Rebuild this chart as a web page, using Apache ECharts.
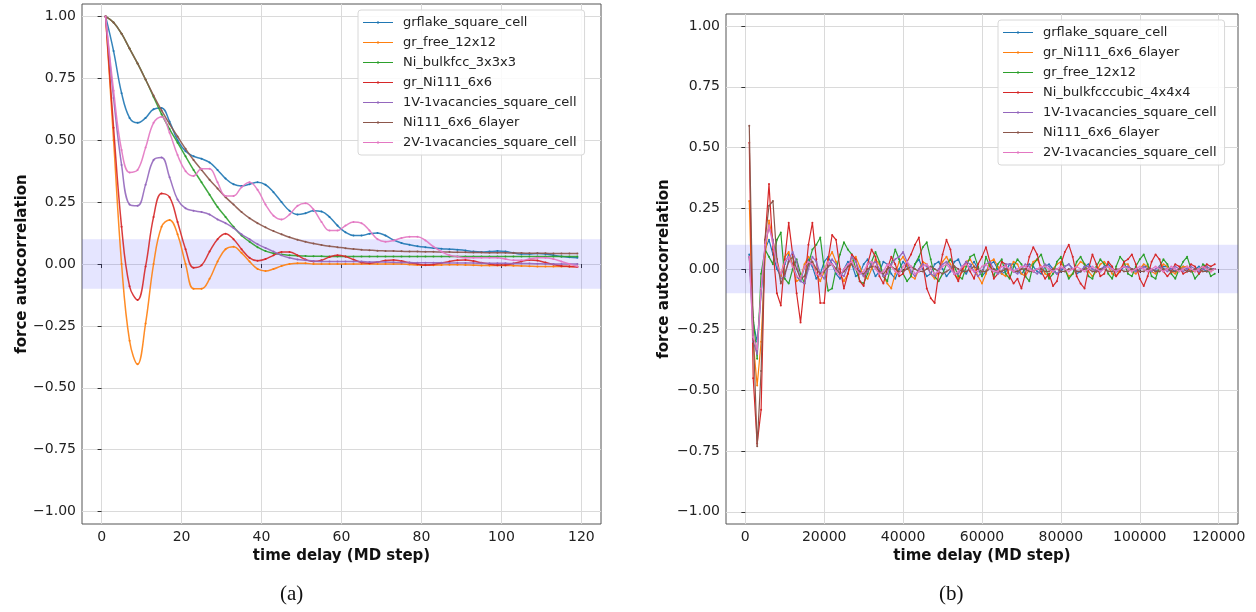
<!DOCTYPE html>
<html>
<head>
<meta charset="utf-8">
<script src="https://cdn.jsdelivr.net/npm/echarts@6/dist/echarts.min.js"></script>
<style>html,body{margin:0;padding:0;background:#fff;}#c{width:1256px;height:612px;}</style>
</head>
<body>
<div id="c"></div>
<script>
// ---------- shared ticks ----------
const yTicks = [-1, -0.75, -0.5, -0.25, 0, 0.25, 0.5, 0.75, 1];
const xTicksLeft = [0, 20, 40, 60, 80, 100, 120];
const xTicksRight = [0, 20000, 40000, 60000, 80000, 100000, 120000];
const band = [-0.1, 0.1];

// ---------- panel (a) ----------
const namesLeft = ['grflake_square_cell','gr_free_12x12','Ni_bulkfcc_3x3x3','gr_Ni111_6x6','1V-1vacancies_square_cell','Ni111_6x6_6layer','2V-1vacancies_square_cell'];
const xLeft = [1,3,5,7,9,11,13,15,17,19,21,23,25,27,29,31,33,35,37,39,41,43,45,47,49,51,53,55,57,59,61,63,65,67,69,71,73,75,77,79,81,83,85,87,89,91,93,95,97,99,101,103,105,107,109,111,113,115,117,119];
const grflakeL = [1.00,0.86,0.69,0.59,0.57,0.59,0.625,0.63,0.575,0.50,
  0.455,0.435,0.425,0.41,0.38,0.345,0.322,0.315,0.322,0.33,
  0.32,0.29,0.25,0.215,0.20,0.205,0.215,0.212,0.19,0.155,
  0.128,0.115,0.115,0.122,0.125,0.115,0.097,0.085,0.078,0.072,
  0.068,0.065,0.062,0.06,0.058,0.055,0.05,0.048,0.05,0.052,
  0.05,0.045,0.04,0.04,0.042,0.04,0.035,0.03,0.027,0.025];
const grfreeL = [1.00,0.50,0.0,-0.31,-0.405,-0.24,0.0,0.15,0.178,0.12,
  0.0,-0.10,-0.10,-0.06,0.01,0.06,0.07,0.045,0.01,-0.02,
  -0.028,-0.02,-0.008,0.0,0.003,0.003,0.0,0.0,0.0,0.0,
  0.0,0.0,0.0,0.0,0.0,0.0,0.0,0.0,-0.002,-0.004,
  -0.005,-0.005,-0.004,-0.003,-0.003,-0.004,-0.005,-0.006,-0.006,-0.006,
  -0.006,-0.007,-0.008,-0.009,-0.01,-0.01,-0.01,-0.01,-0.01,-0.01];
const nibulkL = [1.00,0.975,0.93,0.87,0.81,0.745,0.675,0.605,0.545,0.49,
  0.435,0.38,0.33,0.28,0.23,0.19,0.15,0.115,0.09,0.068,
  0.052,0.043,0.038,0.035,0.033,0.032,0.031,0.031,0.03,0.03,
  0.03,0.03,0.03,0.03,0.03,0.03,0.03,0.03,0.03,0.03,
  0.03,0.03,0.03,0.03,0.03,0.03,0.03,0.03,0.03,0.03,
  0.03,0.03,0.03,0.03,0.03,0.03,0.03,0.03,0.03,0.03];
const grni111L = [1.00,0.55,0.15,-0.09,-0.145,-0.01,0.19,0.285,0.27,0.17,
  0.06,-0.015,-0.005,0.05,0.10,0.122,0.10,0.06,0.025,0.013,
  0.02,0.035,0.048,0.048,0.035,0.018,0.01,0.015,0.028,0.035,
  0.03,0.018,0.006,0.003,0.008,0.014,0.016,0.012,0.005,0.0,
  -0.004,-0.002,0.004,0.01,0.015,0.016,0.012,0.005,0.0,-0.004,
  -0.004,0.002,0.01,0.016,0.014,0.006,-0.002,-0.008,-0.01,-0.012];
const v1L = [1.00,0.67,0.40,0.24,0.235,0.32,0.42,0.43,0.35,0.26,
  0.225,0.215,0.21,0.20,0.18,0.165,0.145,0.12,0.10,0.08,
  0.065,0.05,0.035,0.025,0.018,0.015,0.012,0.01,0.01,0.01,
  0.01,0.01,0.01,0.008,0.008,0.008,0.007,0.006,0.006,0.005,
  0.005,0.005,0.005,0.004,0.004,0.004,0.004,0.003,0.003,0.003,
  0.003,0.002,0.002,0.002,0.001,0.0,0.0,0.0,0.0,0.0];
const ni111L = [1.00,0.975,0.93,0.87,0.81,0.745,0.68,0.62,0.565,0.515,
  0.465,0.42,0.38,0.34,0.305,0.27,0.24,0.21,0.185,0.165,
  0.148,0.133,0.12,0.108,0.098,0.09,0.083,0.077,0.072,0.068,
  0.064,0.061,0.058,0.056,0.054,0.053,0.052,0.051,0.05,0.05,
  0.049,0.049,0.048,0.048,0.047,0.047,0.046,0.046,0.045,0.045,
  0.045,0.044,0.044,0.043,0.043,0.043,0.042,0.042,0.042,0.042];
const v2L = [1.00,0.70,0.46,0.37,0.38,0.47,0.57,0.595,0.53,0.44,
  0.375,0.355,0.385,0.385,0.33,0.275,0.275,0.31,0.33,0.30,
  0.24,0.195,0.18,0.20,0.235,0.245,0.22,0.17,0.135,0.135,
  0.155,0.17,0.165,0.135,0.10,0.09,0.095,0.105,0.11,0.11,
  0.095,0.07,0.05,0.035,0.03,0.025,0.025,0.025,0.025,0.025,
  0.02,0.015,0.015,0.02,0.025,0.025,0.02,0.01,0.0,-0.01];
const valuesLeft = [grflakeL, grfreeL, nibulkL, grni111L, v1L, ni111L, v2L];

// ---------- panel (b) ----------
const namesRight = ['grflake_square_cell','gr_Ni111_6x6_6layer','gr_free_12x12','Ni_bulkfcccubic_4x4x4','1V-1vacancies_square_cell','Ni111_6x6_6layer','2V-1vacancies_square_cell'];
const xRight = [1000,2000,3000,4000,5000,6000,7000,8000,9000,10000,11000,12000,13000,14000,15000,16000,17000,18000,19000,20000,
  21000,22000,23000,24000,25000,26000,27000,28000,29000,30000,31000,32000,33000,34000,35000,36000,37000,38000,39000,40000,
  41000,42000,43000,44000,45000,46000,47000,48000,49000,50000,51000,52000,53000,54000,55000,56000,57000,58000,59000,60000,
  61000,62000,63000,64000,65000,66000,67000,68000,69000,70000,71000,72000,73000,74000,75000,76000,77000,78000,79000,80000,
  81000,82000,83000,84000,85000,86000,87000,88000,89000,90000,91000,92000,93000,94000,95000,96000,97000,98000,99000,100000,
  101000,102000,103000,104000,105000,106000,107000,108000,109000,110000,111000,112000,113000,114000,115000,116000,117000,118000,119000];
const grflakeR = [0.06,-0.22,-0.30,-0.10,0.08,0.12,0.06,0.00,-0.03,0.02,
  0.06,0.02,-0.03,-0.05,0.01,0.04,0.01,-0.04,-0.02,0.03,
  0.05,0.02,-0.02,-0.04,0.00,0.03,0.02,-0.03,-0.02,0.02,
  0.04,0.01,-0.03,-0.01,0.03,0.02,-0.02,-0.04,0.00,0.03,
  0.01,-0.02,0.02,0.04,0.00,-0.03,-0.02,0.02,0.03,0.00,
  -0.03,-0.01,0.03,0.04,0.00,-0.02,0.01,0.03,0.00,-0.03,
  -0.01,0.02,0.03,0.00,-0.02,-0.01,0.02,0.02,-0.01,-0.02,
  0.00,0.02,0.01,-0.01,-0.02,0.01,0.02,0.00,-0.02,-0.01,
  0.01,0.02,0.00,-0.02,-0.01,0.01,0.02,0.00,-0.01,-0.01,
  0.01,0.02,0.00,-0.01,-0.01,0.01,0.01,0.00,-0.01,0.00,
  0.01,0.01,0.00,-0.01,0.00,0.01,0.01,0.00,-0.01,0.00,
  0.01,0.00,-0.01,0.00,0.01,0.00,-0.01,0.00,0.00];
const grni666R = [0.28,-0.30,-0.48,-0.30,0.05,0.20,0.12,0.04,-0.03,0.05,
  0.07,0.01,-0.05,-0.04,0.02,0.05,0.03,-0.02,-0.05,-0.01,
  0.04,0.07,0.03,-0.02,-0.05,-0.02,0.03,0.05,0.01,-0.03,
  -0.04,0.00,0.04,0.02,-0.03,-0.06,-0.08,-0.02,0.03,0.05,
  0.02,-0.03,-0.04,0.00,0.03,0.02,-0.02,-0.04,-0.01,0.03,
  0.05,0.02,-0.02,-0.04,-0.01,0.03,0.04,0.01,-0.03,-0.06,
  -0.02,0.03,0.04,0.01,-0.02,-0.03,0.00,0.03,0.02,-0.02,
  -0.03,0.00,0.03,0.04,0.01,-0.02,-0.03,0.00,0.02,0.03,
  0.00,-0.03,-0.02,0.01,0.03,0.02,-0.01,-0.03,-0.01,0.02,
  0.03,0.01,-0.02,-0.03,0.00,0.02,0.02,-0.01,-0.02,0.00,
  0.02,0.01,-0.01,-0.02,0.00,0.02,0.01,-0.01,-0.02,0.00,
  0.01,0.01,-0.01,-0.01,0.00,0.01,0.00,-0.01,0.00];
const grfreeR = [0.05,-0.20,-0.37,-0.02,0.08,0.05,0.02,0.12,0.15,-0.04,
  -0.06,0.00,0.04,-0.02,-0.06,0.02,0.08,0.10,0.13,0.00,
  -0.09,-0.08,0.00,0.06,0.11,0.08,0.06,0.00,-0.05,-0.06,
  -0.02,0.03,0.07,0.03,-0.03,-0.05,0.02,0.08,0.04,-0.02,
  -0.05,-0.03,0.02,0.05,0.09,0.11,0.04,-0.03,-0.05,-0.02,
  0.02,0.04,0.01,-0.03,-0.04,0.01,0.05,0.06,0.01,-0.03,
  0.05,0.01,-0.03,0.02,0.04,-0.02,-0.04,0.01,0.04,0.02,
  -0.03,-0.05,0.02,0.04,0.06,0.01,-0.04,-0.02,0.03,0.05,
  0.00,-0.04,-0.02,0.03,0.05,0.02,-0.03,-0.04,0.01,0.04,
  0.02,-0.02,-0.04,0.01,0.05,0.03,-0.02,-0.03,0.01,0.04,
  0.06,0.02,-0.03,-0.04,0.01,0.04,0.02,-0.02,-0.04,0.00,
  0.03,0.05,0.00,-0.04,-0.02,0.02,0.01,-0.03,-0.02];
const nibulkR = [0.52,-0.45,-0.72,-0.58,0.12,0.35,0.08,-0.10,-0.15,0.04,
  0.19,0.06,-0.10,-0.22,-0.06,0.10,0.19,0.04,-0.14,-0.14,
  0.04,0.14,0.12,0.00,-0.08,-0.02,0.06,0.04,-0.05,-0.07,
  0.02,0.08,0.05,-0.03,-0.06,0.00,0.05,0.02,-0.03,-0.02,
  0.03,0.06,0.10,0.13,0.02,-0.08,-0.12,-0.14,-0.02,0.06,
  0.12,0.08,-0.02,-0.05,0.00,0.03,-0.01,-0.04,0.02,0.05,
  0.09,0.03,-0.04,-0.02,0.03,0.02,-0.03,-0.06,-0.04,-0.08,
  -0.02,0.05,0.09,0.06,-0.01,-0.04,-0.02,-0.07,-0.05,0.02,
  0.07,0.10,0.05,-0.03,-0.06,-0.08,0.00,0.06,0.02,-0.03,
  -0.02,0.03,0.01,-0.03,-0.01,0.03,0.04,0.06,0.02,-0.04,
  -0.07,-0.03,0.03,0.06,0.04,-0.01,-0.03,-0.01,0.02,0.01,
  -0.02,-0.01,0.02,0.01,-0.02,0.00,0.02,0.01,0.02];
const v1R = [0.05,-0.30,-0.35,-0.10,0.10,0.17,0.12,0.02,-0.04,-0.03,
  0.04,0.07,0.03,-0.05,-0.06,0.00,0.05,0.03,-0.02,-0.04,
  0.01,0.04,0.02,-0.02,-0.03,0.01,0.05,0.03,-0.01,-0.03,
  -0.01,0.02,0.03,0.00,-0.03,-0.02,0.02,0.04,0.05,0.07,
  0.03,-0.01,-0.03,0.00,0.02,0.01,-0.02,-0.03,0.00,0.02,
  0.03,0.01,-0.02,-0.02,0.01,0.03,0.02,-0.01,-0.03,-0.01,
  0.02,0.03,0.00,-0.02,-0.01,0.02,0.02,-0.01,-0.02,0.00,
  0.02,0.01,-0.01,-0.02,0.00,0.02,0.01,-0.01,-0.02,0.00,
  0.01,0.02,0.00,-0.01,-0.01,0.01,0.01,0.00,-0.01,0.00,
  0.01,0.01,0.00,-0.01,0.00,0.01,0.01,0.00,-0.01,0.00,
  0.01,0.00,-0.01,0.00,0.01,0.00,-0.01,0.00,0.01,0.00,
  -0.01,0.00,0.01,0.00,-0.01,0.00,0.01,0.00,0.00];
const ni111R = [0.59,-0.25,-0.73,-0.42,0.12,0.26,0.28,0.04,-0.06,-0.02,
  0.03,0.05,0.00,-0.04,-0.03,0.02,0.03,0.00,-0.02,-0.01,
  0.01,0.02,0.00,-0.02,-0.01,0.01,0.02,0.00,-0.01,-0.02,
  0.00,0.01,0.01,-0.01,-0.02,0.00,0.01,0.00,-0.01,-0.01,
  0.00,0.01,0.00,-0.01,-0.01,0.00,0.01,0.00,-0.01,-0.02,
  -0.01,0.00,0.01,0.00,-0.01,-0.01,0.00,0.01,0.00,-0.01,
  -0.01,0.00,0.00,-0.01,-0.01,0.00,0.00,-0.01,-0.01,0.00,
  0.00,-0.01,-0.01,0.00,0.00,-0.01,-0.01,0.00,0.00,-0.01,
  -0.01,0.00,0.00,-0.01,-0.01,0.00,0.00,-0.01,-0.01,0.00,
  0.00,-0.01,-0.01,0.00,0.00,-0.01,-0.01,0.00,0.00,-0.01,
  -0.01,0.00,0.00,-0.01,-0.01,0.00,0.00,-0.01,-0.01,0.00,
  0.00,-0.01,-0.01,0.00,0.00,-0.01,-0.01,0.00,0.00];
const v2R = [0.05,-0.28,-0.33,-0.08,0.10,0.18,0.10,0.02,-0.02,0.03,
  0.05,0.01,-0.03,-0.04,0.01,0.03,0.02,-0.02,-0.03,0.00,
  0.03,0.02,-0.01,-0.03,0.00,0.02,0.03,0.00,-0.02,-0.01,
  0.02,0.03,0.00,-0.02,-0.01,0.02,0.01,-0.01,-0.02,0.01,
  0.03,0.01,-0.02,-0.01,0.01,0.02,0.00,-0.02,-0.01,0.01,
  0.02,0.00,-0.02,-0.01,0.01,0.02,0.00,-0.01,-0.01,0.01,
  0.02,0.00,-0.01,-0.01,0.01,0.01,0.00,-0.01,0.00,0.01,
  0.01,0.00,-0.01,0.00,0.01,0.01,0.00,-0.01,0.00,0.01,
  0.00,-0.01,0.00,0.01,0.00,-0.01,0.00,0.01,0.00,-0.01,
  0.00,0.01,0.00,-0.01,0.00,0.01,0.00,-0.01,0.00,0.01,
  0.00,-0.01,0.00,0.01,0.00,-0.01,0.00,0.01,0.00,-0.01,
  0.00,0.01,0.00,-0.01,0.00,0.01,0.00,-0.01,0.00];
const valuesRight = [grflakeR, grni666R, grfreeR, nibulkR, v1R, ni111R, v2R];

const colors = ['#1f77b4','#ff7f0e','#2ca02c','#d62728','#9467bd','#8c564b','#e377c2'];

// ---------- build option ----------
const FONT = 'DejaVu Sans';
const fmtY = v => (v < 0 ? '\u2212' : '') + Math.abs(v).toFixed(2);
const fmtX = v => String(v);
const legendIcon = 'path://M0,5 L60,5 L60,7 L0,7 Z M28,4 L32,4 L32,8 L28,8 Z';

function yAxisCfg(gi, gap) {
  return {
    type: 'value', gridIndex: gi, min: -1.05, max: 1.05,
    name: 'force autocorrelation', nameLocation: 'middle', nameGap: gap,
    nameTextStyle: {fontFamily: FONT, fontWeight: 'bold', fontSize: 15, color: '#111'},
    axisLine: {show: false},
    axisTick: {show: true, length: 4, lineStyle: {color: '#333'}, customValues: yTicks},
    axisLabel: {customValues: yTicks, formatter: fmtY, fontFamily: FONT, fontSize: 14, color: '#222', margin: 6},
    splitLine: {show: true, lineStyle: {color: '#dadada', width: 1}}
  };
}
function xAxisCfg(gi, min, max, ticks) {
  return {
    type: 'value', gridIndex: gi, min: min, max: max,
    name: 'time delay (MD step)', nameLocation: 'middle', nameGap: 25,
    nameTextStyle: {fontFamily: FONT, fontWeight: 'bold', fontSize: 15, color: '#111'},
    axisLine: {show: false},
    axisTick: {show: true, length: 4, lineStyle: {color: '#333'}, customValues: ticks},
    axisLabel: {customValues: ticks, formatter: fmtX, fontFamily: FONT, fontSize: 14, color: '#222', margin: 6},
    splitLine: {show: true, lineStyle: {color: '#dadada', width: 1}}
  };
}

const series = [];
[0, 1].forEach(gi => {
  series.push({
    type: 'line', xAxisIndex: gi, yAxisIndex: gi, data: [], z: 1, silent: true,
    markArea: {silent: true, itemStyle: {color: 'rgba(40,40,255,0.12)'}, data: [[{yAxis: band[0]}, {yAxis: band[1]}]]}
  });
});
namesLeft.forEach((n, i) => {
  series.push({
    name: n, type: 'line', xAxisIndex: 0, yAxisIndex: 0, z: 3 + i,
    data: xLeft.map((x, k) => [x, valuesLeft[i][k]]),
    smooth: 0.4, symbol: 'circle', symbolSize: 2, showSymbol: true,
    lineStyle: {width: 1.5, color: colors[i], opacity: 0.9}, itemStyle: {color: colors[i]}
  });
});
namesRight.forEach((n, i) => {
  series.push({
    name: n + ' ', type: 'line', xAxisIndex: 1, yAxisIndex: 1, z: 3 + i,
    data: xRight.map((x, k) => [x, valuesRight[i][k]]),
    symbol: 'circle', symbolSize: 2, showSymbol: true,
    lineStyle: {width: 1.2, color: colors[i]}, itemStyle: {color: colors[i]}
  });
});

const legendBase = {
  orient: 'vertical', itemWidth: 30, itemHeight: 14, itemGap: 7,
  backgroundColor: 'rgba(255,255,255,0.85)', borderColor: '#d8d8d8', borderWidth: 1, borderRadius: 3,
  icon: legendIcon,
  textStyle: {fontFamily: FONT, fontSize: 13, color: '#222', padding: [0, 0, 0, 5]},
  selectedMode: false
};

const option = {
  animation: false,
  backgroundColor: '#fff',
  color: colors,
  grid: [
    {left: 82, top: 4, width: 519, height: 520, show: true, borderColor: '#555', borderWidth: 1, backgroundColor: 'transparent'},
    {left: 726, top: 14, width: 512, height: 510, show: true, borderColor: '#555', borderWidth: 1, backgroundColor: 'transparent'}
  ],
  xAxis: [xAxisCfg(0, -4.9, 124.9, xTicksLeft), xAxisCfg(1, -4900, 124900, xTicksRight)],
  yAxis: [yAxisCfg(0, 52), yAxisCfg(1, 54)],
  legend: [
    Object.assign({}, legendBase, {left: 358, top: 10, padding: [6, 8, 6, 5], data: namesLeft}),
    Object.assign({}, legendBase, {left: 998, top: 20, padding: [6, 8, 6, 5], data: namesRight.map(n => n + ' '),
      formatter: s => s.trim()})
  ],
  graphic: [
    {type: 'text', left: 280, top: 584, style: {text: '(a)', font: '21px "Liberation Serif", "DejaVu Serif", serif', fill: '#111'}},
    {type: 'text', left: 939, top: 584, style: {text: '(b)', font: '21px "Liberation Serif", "DejaVu Serif", serif', fill: '#111'}}
  ],
  series: series
};

const chart = echarts.init(document.getElementById('c'), null, {renderer: 'canvas'});
chart.setOption(option);
</script>
</body>
</html>
